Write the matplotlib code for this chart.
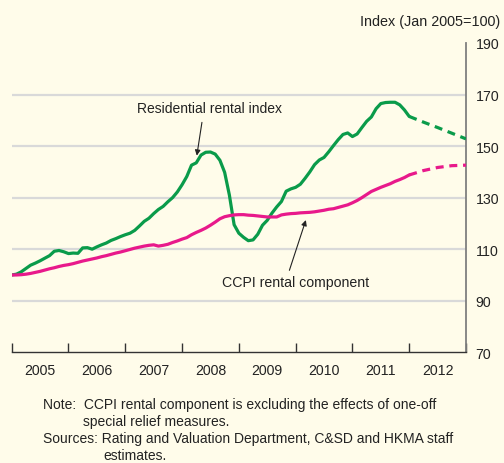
import numpy as np
import matplotlib.pyplot as plt

# Monthly index values, Jan 2005 = 100
residential = [
    100.0, 100.3, 101.2, 102.5, 103.8, 104.6, 105.5, 106.5, 107.5, 109.2, 109.5, 109.0,
    108.3, 108.5, 108.4, 110.5, 110.6, 110.0, 110.9, 111.7, 112.4, 113.4, 114.1, 114.9,
    115.6, 116.2, 117.3, 119.0, 120.8, 122.0, 123.8, 125.4, 126.6, 128.4, 130.0, 132.2,
    135.0, 138.2, 142.6, 143.5, 146.5, 147.6, 147.7, 146.9, 144.5, 139.8, 131.0, 119.5,
    116.2, 114.6, 113.3, 113.6, 115.8, 119.3, 121.2, 124.0, 126.4, 128.5, 132.5, 133.4,
    134.0, 135.2, 137.5, 140.0, 142.8, 144.6, 145.6, 147.8, 150.2, 152.5, 154.5, 155.1,
    153.7, 154.7, 157.2, 159.6, 161.3, 164.5, 166.5, 166.9, 167.0, 167.0, 166.0, 164.0,
    161.5,
]
ccpi_rental = [
    100.0, 100.0, 100.1, 100.3, 100.6, 101.0, 101.4, 101.9, 102.4, 102.8, 103.3, 103.7,
    104.0, 104.4, 104.9, 105.4, 105.8, 106.2, 106.6, 107.1, 107.5, 108.0, 108.5, 108.9,
    109.4, 109.9, 110.4, 110.8, 111.2, 111.5, 111.7, 111.2, 111.5, 111.9, 112.6, 113.2,
    113.9, 114.5, 115.6, 116.5, 117.3, 118.2, 119.3, 120.5, 121.8, 122.6, 123.0, 123.3,
    123.4, 123.4, 123.2, 123.1, 122.9, 122.7, 122.5, 122.5, 122.5, 123.3, 123.6, 123.8,
    123.9, 124.1, 124.2, 124.3, 124.5, 124.8, 125.1, 125.5, 125.7, 126.2, 126.7, 127.2,
    128.0, 128.9, 130.0, 131.2, 132.4, 133.2, 134.0, 134.7, 135.4, 136.3, 137.0, 137.8,
    138.8,
]
# Forecast path (quarterly steps from Jan 2012 to end-2012)
fc_months = [84, 87, 90, 93, 96]
residential_fc = [161.5, 159.3, 157.2, 155.0, 152.8]
ccpi_fc = [138.8, 140.5, 141.7, 142.4, 142.6]

years = list(range(2005, 2013))
yticks = [70, 90, 110, 130, 150, 170, 190]

GREEN = "#0a9b4a"
PINK = "#e8198b"
BG = "#fffcea"

plt.rcParams["font.family"] = ["Liberation Sans", "DejaVu Sans"]

fig = plt.figure(figsize=(5.04, 4.64), dpi=100, facecolor=BG)
ax = fig.add_axes([0.0232, 0.2386, 0.9014, 0.6666], facecolor=BG)

t = 2005 + np.arange(len(residential)) / 12
t_fc = 2005 + np.array(fc_months) / 12

ax.plot(t, residential, color=GREEN, lw=2.3, solid_capstyle="round", zorder=3)
ax.plot(t_fc, residential_fc, color=GREEN, lw=2.3, ls=(0, (2.5, 1.8)), zorder=3)
ax.plot(t, ccpi_rental, color=PINK, lw=2.3, solid_capstyle="round", zorder=3)
ax.plot(t_fc, ccpi_fc, color=PINK, lw=2.3, ls=(0, (2.5, 1.8)), zorder=3)

ax.set_xlim(2005, 2013)
ax.set_ylim(70, 190)

# horizontal grid
for v in [90, 110, 130, 150, 170]:
    ax.axhline(v, color="#d9d9d9", lw=1.6, zorder=1)

for s in ["left", "top"]:
    ax.spines[s].set_visible(False)
ax.spines["right"].set_color("#7f7f7f")
ax.spines["right"].set_linewidth(1.3)
ax.spines["bottom"].set_color("#333333")
ax.spines["bottom"].set_linewidth(1.0)

ax.yaxis.tick_right()
ax.set_yticks(yticks)
ax.tick_params(axis="y", length=0, pad=7, labelsize=10.2, labelcolor="#222222")

ax.set_xticks(years + [2013])
ax.set_xticklabels([])
ax.set_xticks([y + 0.5 for y in years], minor=True)
ax.set_xticklabels([str(y) for y in years], minor=True)
ax.tick_params(axis="x", which="major", direction="in", length=6.5, width=1.0, color="#333333")
ax.tick_params(axis="x", which="minor", length=0, pad=8, labelsize=10.2, labelcolor="#222222")

arrow = dict(arrowstyle="-|>", lw=0.8, color="#222222", shrinkA=0, shrinkB=0,
             mutation_scale=8)
ax.annotate("", xy=(2008.26, 146.3), xytext=(2008.35, 159.2), arrowprops=arrow)
ax.text(2008.49, 164.6, "Residential rental index", ha="center", va="center",
        fontsize=10, color="#222222")
ax.annotate("", xy=(2010.18, 121.3), xytext=(2009.89, 101.8), arrowprops=arrow)
ax.text(2010.0, 97.2, "CCPI rental component", ha="center", va="center",
        fontsize=10.2, color="#222222")

fig.text(0.992, 0.953, "Index (Jan 2005=100)", ha="right", va="center",
         fontsize=10.4, color="#222222")

note_kw = dict(fontsize=10, color="#222222", va="center", ha="left")
fig.text(43.3 / 504, 1 - 405 / 464,
         "Note:  CCPI rental component is excluding the effects of one-off", **note_kw)
fig.text(83.3 / 504, 1 - 421.7 / 464, "special relief measures.", **note_kw)
fig.text(43.3 / 504, 1 - 439.3 / 464,
         "Sources: Rating and Valuation Department, C&SD and HKMA staff", **note_kw)
fig.text(103.3 / 504, 1 - 456 / 464, "estimates.", **note_kw)

fig.savefig("out.png", dpi=100, facecolor=BG)
